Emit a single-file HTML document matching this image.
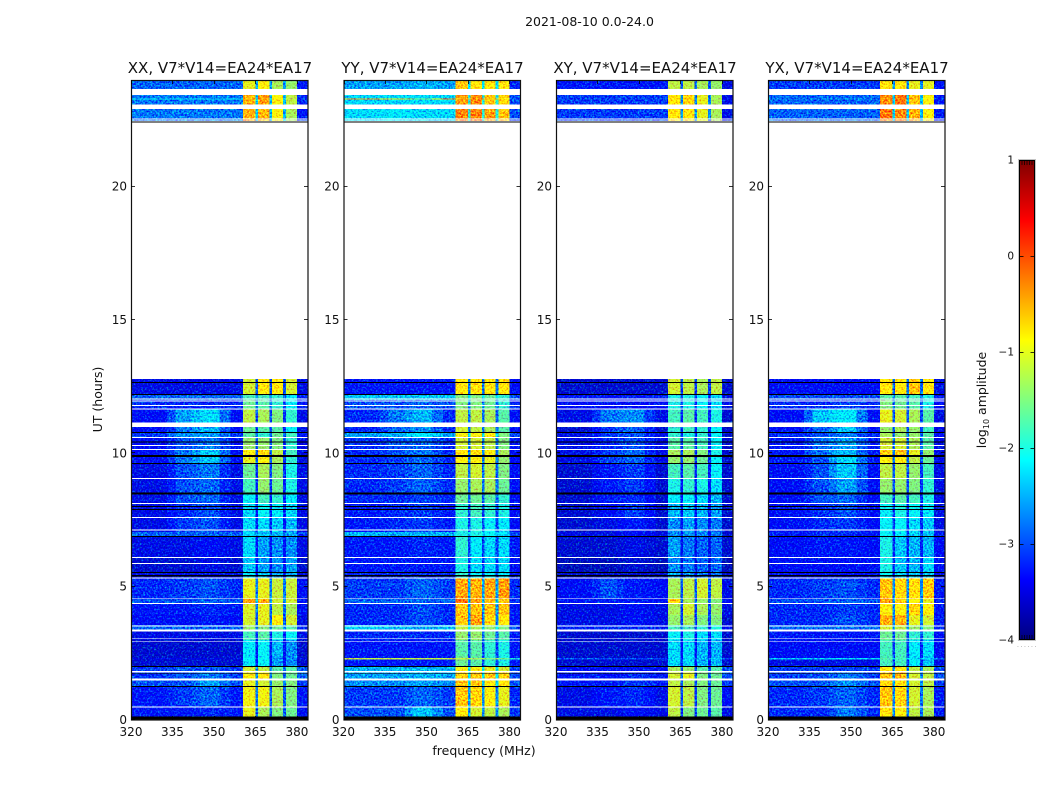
<!DOCTYPE html>
<html lang="en">
<head>
<meta charset="utf-8">
<title>2021-08-10 spectrogram</title>
<style>
html,body{margin:0;padding:0;background:#fff;width:1050px;height:800px;overflow:hidden}
svg{display:block}
text{font-family:"DejaVu Sans","Liberation Sans",sans-serif;fill:#111}
</style>
</head>
<body>
<svg id="fig" width="1050" height="800" viewBox="0 0 1050 800" xmlns="http://www.w3.org/2000/svg">
<defs>
<filter id="grain" x="0" y="0" width="100%" height="100%" color-interpolation-filters="sRGB">
<feTurbulence type="fractalNoise" baseFrequency="0.55" numOctaves="2" seed="7" result="n"/>
<feColorMatrix in="n" type="matrix" values="0 0 0 0 0.5  1 0 0 0 0  0 -0.35 0 0 0.675  0 0 0 0 1" result="m"/>
<feComposite in="SourceGraphic" in2="m" operator="arithmetic" k1="0" k2="1" k3="1.6" k4="-0.8" result="c"/>
<feComposite in="c" in2="SourceAlpha" operator="in"/>
</filter>
<linearGradient id="jetGrad" x1="0" y1="1" x2="0" y2="0"></linearGradient>
</defs>
<rect x="0" y="0" width="1050" height="800" fill="#fff"/>
<text x="589.5" y="26" font-size="12.5" text-anchor="middle">2021-08-10 0.0-24.0</text>
<text x="0" y="0" font-size="12.5" text-anchor="middle" transform="translate(102 399.5) rotate(-90)">UT (hours)</text>
<text x="484" y="755" font-size="12.5" text-anchor="middle">frequency (MHz)</text>
<text x="0" y="0" font-size="12.5" text-anchor="middle" transform="translate(986 400) rotate(-90)">log<tspan font-size="8" dy="3">10</tspan><tspan dy="-3"> amplitude</tspan></text>
<g id="panels"></g>
<g id="cbar"></g>
</svg>
<script>
// Time blocks in UT hours [start, end]
const timeBlocks = [[23.66,24],[23.31,23.44],[23.27,23.31],[23.08,23.27],[22.43,22.91],[12.21,12.79],[12.0,12.21],[11.64,12.0],[11.15,11.64],[10.78,10.99],[10.58,10.78],[10.16,10.58],[9.9,10.16],[9.6,9.9],[9.08,9.6],[8.51,9.08],[8.14,8.51],[7.61,8.14],[7.05,7.61],[6.88,7.05],[6.11,6.88],[5.55,6.11],[5.31,5.55],[4.56,5.31],[4.37,4.56],[3.94,4.37],[3.56,3.94],[3.36,3.56],[3.0,3.36],[2.4,3.0],[2.33,2.4],[2.27,2.33],[2.03,2.27],[1.82,2.03],[1.54,1.82],[1.26,1.54],[0.49,1.26],[0.13,0.49]];
// Unobserved time ranges (white) and flagged ranges (black), in hours
const gapHours = [[23.44,23.66],[22.91,23.08],[22.52,22.56],[22.44,22.48],[12.79,22.40],[12.02,12.06],[11.94,11.98],[11.78,11.81],[11.64,11.68],[10.99,11.15],[10.58,10.61],[10.275,10.31],[10.125,10.16],[9.04,9.075],[8.10,8.14],[7.575,7.61],[7.11,7.15],[6.075,6.11],[5.85,5.89],[5.30,5.34],[4.53,4.56],[4.35,4.39],[3.51,3.55],[3.31,3.39],[3.03,3.05],[2.94,2.97],[1.79,1.84],[1.49,1.55],[0.46,0.50]];
const flagHours = [[22.40,22.44],[12.64,12.675],[12.19,12.225],[10.77,10.8],[10.40,10.45],[9.86,9.93],[9.6,9.64],[8.46,8.54],[7.99,8.025],[7.875,7.91],[6.87,6.9],[5.51,5.55],[5.39,5.43],[1.99,2.025],[1.74,1.77],[1.24,1.275],[0,0.14]];
// Frequency regions in MHz
const bgLowEdges = [320,333];
const bump1Edges = [336,342];
const bump2Edges = [345,352];
const bgHighEdges = [356,360.5];
const subbandEdges = [[360.5,365],[366,370],[371,375],[376,380]];
const edgeBand = [380,384];
// Log10 amplitude per time block: background, bump1, bump2, sub-band 1-4, upper edge
const valuesXX = [
[-2.9,-2.9,-2.9,-1.0,-0.9,-1.3,-1.4,-3.3],[-2.8,-2.8,-2.8,-0.5,-0.4,-0.9,-1.2,-3.2],[-2.1,-2.2,-2.2,-0.5,-0.4,-0.9,-1.2,-3.0],[-2.8,-2.8,-2.8,-0.5,-0.4,-0.9,-1.2,-3.2],[-2.8,-2.8,-2.8,-0.5,-0.5,-0.9,-1.3,-3.3],
[-3.5,-3.5,-3.5,-1.1,-0.8,-0.8,-1.1,-3.5],[-2.9,-2.9,-2.9,-1.8,-1.8,-1.9,-2.2,-3.2],[-3.2,-3.2,-3.2,-1.6,-1.7,-1.9,-2.2,-3.3],[-3.4,-2.6,-2.3,-1.2,-1.3,-1.5,-1.9,-3.5],[-3.4,-2.8,-2.5,-1.6,-1.7,-1.7,-2.1,-3.5],
[-3.1,-2.7,-2.6,-1.7,-1.9,-1.6,-1.8,-3.3],[-3.4,-3.0,-2.8,-1.4,-1.4,-1.5,-1.9,-3.5],[-3.4,-2.8,-2.4,-0.9,-0.7,-1.2,-1.8,-3.5],[-3.4,-2.8,-2.4,-1.0,-0.9,-1.3,-1.9,-3.5],[-3.5,-3.0,-2.8,-1.6,-1.3,-1.5,-2.0,-3.5],
[-3.5,-3.0,-2.9,-1.8,-1.4,-1.6,-2.0,-3.5],[-3.5,-3.0,-2.9,-2.1,-1.8,-1.9,-2.2,-3.5],[-3.5,-3.2,-3.0,-2.3,-2.1,-2.2,-2.3,-3.5],[-3.5,-3.1,-3.0,-2.3,-2.3,-2.4,-2.5,-3.5],[-2.9,-2.9,-2.9,-2.3,-2.4,-2.5,-2.6,-3.1],
[-3.5,-3.5,-3.4,-2.3,-2.6,-2.7,-2.7,-3.5],[-3.6,-3.6,-3.5,-2.4,-2.6,-2.7,-2.6,-3.6],[-3.5,-3.5,-3.5,-2.2,-2.4,-2.5,-2.5,-3.5],[-3.2,-3.1,-3.0,-1.0,-1.0,-1.15,-1.15,-3.4],[-3.0,-3.0,-2.9,-0.4,-0.5,-1.1,-1.1,-3.3],
[-3.3,-3.3,-3.2,-1.05,-1.0,-1.2,-1.3,-3.4],[-3.4,-3.4,-3.3,-1.1,-1.0,-0.9,-1.1,-3.5],[-2.9,-2.9,-2.9,-1.4,-1.5,-1.6,-1.7,-3.2],[-3.5,-3.5,-3.5,-1.8,-1.7,-2.0,-2.1,-3.5],[-3.6,-3.6,-3.6,-2.2,-2.1,-2.5,-2.7,-3.6],
[-3.6,-3.6,-3.6,-2.2,-2.1,-2.6,-2.7,-3.6],[-3.5,-3.5,-3.5,-2.2,-2.1,-2.6,-2.7,-3.5],[-3.6,-3.6,-3.6,-2.2,-2.1,-2.6,-2.7,-3.6],[-3.1,-3.0,-3.0,-1.1,-1.2,-1.7,-1.7,-2.9],[-3.1,-3.0,-2.8,-0.9,-0.8,-1.5,-1.6,-2.9],
[-3.0,-3.0,-2.6,-1.0,-1.1,-1.4,-1.5,-3.1],[-3.3,-3.1,-2.9,-0.95,-0.95,-1.3,-1.5,-3.3],[-3.3,-3.3,-3.2,-1.0,-1.3,-1.5,-1.6,-3.4]];
const valuesYY = [
[-2.6,-2.6,-2.5,-0.6,-0.8,-0.8,-0.8,-3.2],[-2.3,-2.3,-2.3,-0.4,-0.3,-0.6,-0.7,-3.0],[-0.3,-0.8,-1.5,-0.4,-0.3,-0.6,-0.7,-2.9],[-2.3,-2.3,-2.3,-0.4,-0.3,-0.6,-0.7,-3.0],[-2.3,-2.2,-2.3,-0.25,-0.25,-0.4,-0.6,-3.0],
[-3.3,-3.3,-3.3,-0.8,-0.8,-0.8,-0.8,-3.4],[-2.4,-2.4,-2.4,-1.5,-1.5,-1.6,-1.9,-3.0],[-3.0,-3.0,-2.9,-1.5,-1.5,-1.6,-1.9,-3.2],[-3.2,-2.8,-2.5,-1.2,-1.2,-1.3,-1.7,-3.4],[-3.2,-2.9,-2.7,-1.1,-1.2,-1.3,-1.7,-3.4],
[-2.6,-2.5,-2.2,-0.9,-0.9,-0.8,-1.5,-3.0],[-3.2,-3.0,-2.9,-1.1,-1.1,-1.2,-1.5,-3.3],[-3.2,-3.0,-2.8,-0.8,-0.8,-0.9,-1.3,-3.4],[-3.2,-3.1,-2.9,-0.9,-0.9,-1.0,-1.4,-3.4],[-3.2,-3.1,-2.9,-1.2,-1.1,-1.2,-1.5,-3.4],
[-3.2,-3.1,-2.9,-1.4,-1.3,-1.3,-1.6,-3.4],[-3.2,-3.2,-3.1,-1.6,-1.6,-1.7,-1.9,-3.4],[-3.3,-3.2,-3.1,-1.9,-1.8,-1.9,-2.0,-3.4],[-3.3,-3.2,-3.1,-2.0,-2.0,-2.1,-2.2,-3.4],[-2.5,-2.5,-2.5,-2.0,-2.0,-2.1,-2.2,-3.0],
[-3.3,-3.3,-3.2,-1.9,-2.2,-2.3,-2.3,-3.3],[-3.3,-3.3,-3.3,-2.0,-2.3,-2.3,-2.3,-3.4],[-3.2,-3.2,-3.2,-1.9,-2.1,-2.1,-2.2,-3.3],[-3.1,-3.1,-2.9,-0.45,-0.5,-0.45,-0.4,-3.2],[-2.9,-2.9,-2.9,-0.2,-0.4,-0.5,-0.6,-3.1],
[-3.2,-3.2,-3.0,-0.6,-0.6,-0.6,-0.6,-3.3],[-3.2,-3.2,-3.0,-0.6,-0.4,-0.7,-0.8,-3.3],[-2.4,-2.5,-2.6,-1.2,-1.3,-1.4,-1.5,-3.0],[-3.2,-3.2,-3.2,-1.4,-1.4,-1.6,-1.7,-3.3],[-3.3,-3.3,-3.3,-1.7,-1.7,-1.9,-2.0,-3.3],
[-3.3,-3.3,-3.3,-1.6,-1.7,-1.9,-2.0,-3.3],[-1.2,-1.2,-1.2,-1.2,-1.3,-1.5,-1.6,-2.0],[-3.3,-3.3,-3.3,-1.6,-1.7,-1.9,-2.0,-3.3],[-2.5,-2.5,-2.5,-0.9,-0.9,-1.0,-1.1,-3.0],[-2.6,-2.6,-2.5,-0.7,-0.6,-0.6,-0.7,-3.0],
[-2.7,-2.7,-2.6,-0.6,-0.6,-0.8,-0.8,-3.0],[-3.1,-3.1,-2.9,-0.6,-0.7,-0.9,-1.0,-3.2],[-3.0,-3.0,-2.4,-0.9,-1.1,-1.2,-1.3,-3.1]];
const valuesXY = [
[-3.3,-3.3,-3.3,-1.2,-1.2,-1.3,-1.4,-3.5],[-3.1,-3.1,-3.1,-0.8,-0.7,-1.0,-1.3,-3.5],[-3.0,-3.0,-3.0,-0.8,-0.7,-1.0,-1.3,-3.5],[-3.1,-3.1,-3.1,-0.8,-0.7,-1.0,-1.3,-3.5],[-3.1,-3.1,-3.1,-0.8,-0.8,-1.0,-1.3,-3.5],
[-3.6,-3.6,-3.6,-1.1,-1.2,-1.3,-1.2,-3.6],[-3.3,-3.3,-3.3,-2.0,-2.0,-2.1,-2.3,-3.5],[-3.4,-3.4,-3.4,-2.0,-2.0,-2.1,-2.3,-3.5],[-3.5,-2.8,-2.7,-1.8,-1.7,-1.8,-2.0,-3.6],[-3.6,-3.1,-2.9,-1.9,-1.8,-1.9,-2.1,-3.6],
[-3.5,-3.1,-3.0,-1.9,-2.0,-1.9,-2.1,-3.6],[-3.5,-3.2,-3.0,-1.7,-1.7,-1.8,-2.1,-3.6],[-3.5,-3.1,-2.9,-1.3,-1.3,-1.5,-2.0,-3.6],[-3.5,-3.1,-2.9,-1.4,-1.4,-1.6,-2.1,-3.6],[-3.6,-3.3,-3.1,-1.8,-1.7,-1.8,-2.1,-3.6],
[-3.6,-3.3,-3.1,-2.0,-1.9,-2.0,-2.3,-3.6],[-3.6,-3.3,-3.2,-2.2,-2.1,-2.3,-2.5,-3.6],[-3.6,-3.4,-3.1,-2.5,-2.4,-2.5,-2.6,-3.6],[-3.6,-3.5,-3.3,-2.7,-2.6,-2.7,-2.8,-3.6],[-3.5,-3.5,-3.4,-2.7,-2.6,-2.7,-2.8,-3.6],
[-3.6,-3.6,-3.5,-2.6,-2.8,-2.9,-2.9,-3.6],[-3.7,-3.7,-3.6,-2.7,-2.8,-2.9,-2.9,-3.7],[-3.6,-3.6,-3.6,-2.5,-2.7,-2.8,-2.8,-3.6],[-3.4,-3.0,-3.3,-1.3,-1.2,-1.1,-1.2,-3.5],[-3.3,-3.3,-3.3,-0.7,-1.3,-1.4,-1.5,-3.4],
[-3.5,-3.5,-3.4,-1.3,-1.1,-1.3,-1.4,-3.5],[-3.5,-3.5,-3.4,-1.4,-1.3,-1.5,-1.5,-3.6],[-3.2,-3.2,-3.2,-1.8,-1.8,-1.9,-2.0,-3.4],[-3.6,-3.6,-3.6,-2.1,-2.0,-2.3,-2.3,-3.6],[-3.6,-3.6,-3.6,-2.3,-2.3,-2.5,-2.5,-3.6],
[-3.6,-3.6,-3.6,-2.3,-2.3,-2.5,-2.5,-3.6],[-3.0,-3.0,-3.0,-2.3,-2.3,-2.5,-2.5,-3.1],[-3.6,-3.6,-3.6,-2.3,-2.3,-2.5,-2.5,-3.6],[-3.4,-3.4,-3.4,-1.3,-1.4,-1.7,-1.7,-3.0],[-3.3,-3.3,-3.2,-1.1,-1.0,-1.5,-1.6,-3.0],
[-3.3,-3.3,-3.1,-1.2,-1.3,-1.5,-1.6,-3.1],[-3.5,-3.3,-3.2,-1.1,-1.2,-1.5,-1.6,-3.4],[-3.5,-3.5,-3.4,-1.2,-1.5,-1.6,-1.7,-3.5]];
const valuesYX = [
[-3.1,-3.1,-3.1,-0.8,-0.8,-1.0,-1.0,-3.3],[-2.9,-2.9,-2.9,-0.3,-0.2,-0.6,-0.9,-3.3],[-2.7,-2.7,-2.7,-0.3,-0.2,-0.6,-0.9,-3.2],[-2.9,-2.9,-2.9,-0.3,-0.2,-0.6,-0.9,-3.3],[-2.9,-2.9,-2.9,-0.2,-0.3,-0.5,-0.9,-3.3],
[-3.4,-3.4,-3.4,-0.8,-0.8,-0.6,-0.8,-3.5],[-3.0,-3.0,-3.0,-1.7,-1.7,-1.8,-2.0,-3.3],[-3.2,-3.2,-3.1,-1.5,-1.6,-1.7,-2.0,-3.4],[-3.4,-2.4,-2.2,-1.0,-1.1,-1.3,-1.7,-3.5],[-3.4,-2.9,-2.4,-1.4,-1.3,-1.4,-1.8,-3.5],
[-3.2,-3.0,-2.8,-1.3,-1.4,-1.4,-1.7,-3.4],[-3.3,-2.9,-2.6,-1.1,-1.1,-1.3,-1.7,-3.5],[-3.3,-2.8,-2.5,-0.7,-0.6,-1.0,-1.4,-3.5],[-3.3,-3.0,-2.3,-0.9,-0.9,-1.2,-1.6,-3.5],[-3.4,-3.0,-2.4,-1.2,-1.2,-1.4,-1.8,-3.5],
[-3.4,-3.0,-2.6,-1.4,-1.4,-1.5,-1.9,-3.5],[-3.4,-3.0,-2.9,-1.8,-1.7,-1.8,-2.0,-3.5],[-3.4,-3.2,-3.0,-2.1,-2.0,-2.1,-2.2,-3.5],[-3.4,-3.2,-3.1,-2.1,-2.1,-2.3,-2.4,-3.5],[-3.3,-3.2,-3.2,-2.1,-2.2,-2.3,-2.4,-3.4],
[-3.4,-3.3,-3.3,-2.0,-2.4,-2.5,-2.5,-3.4],[-3.4,-3.4,-3.4,-2.0,-2.4,-2.5,-2.3,-3.4],[-3.4,-3.4,-3.4,-2.1,-2.3,-2.4,-2.4,-3.4],[-3.2,-3.1,-3.0,-0.6,-0.7,-0.75,-0.65,-3.3],[-3.0,-3.0,-2.9,-0.4,-0.7,-0.9,-1.0,-3.2],
[-3.2,-3.2,-3.1,-0.9,-0.9,-0.7,-0.9,-3.3],[-3.2,-3.2,-3.0,-0.5,-0.5,-1.0,-1.1,-3.3],[-2.9,-2.9,-2.9,-1.1,-1.2,-1.4,-1.5,-3.2],[-3.3,-3.3,-3.3,-1.6,-1.6,-1.9,-1.9,-3.4],[-3.4,-3.4,-3.4,-1.8,-1.8,-2.2,-2.3,-3.4],
[-3.4,-3.4,-3.4,-1.8,-1.8,-2.2,-2.4,-3.4],[-2.4,-2.3,-2.3,-1.7,-1.8,-2.2,-2.4,-2.8],[-3.5,-3.5,-3.5,-1.8,-1.8,-2.2,-2.4,-3.5],[-3.1,-3.1,-3.1,-0.8,-0.8,-1.2,-1.3,-3.0],[-3.1,-3.0,-2.8,-0.6,-0.5,-1.1,-1.2,-3.0],
[-3.0,-3.0,-2.7,-0.7,-0.8,-1.1,-1.2,-3.1],[-3.2,-3.1,-2.9,-0.6,-0.7,-1.1,-1.3,-3.3],[-3.2,-3.2,-2.8,-0.8,-0.9,-1.2,-1.3,-3.3]];
const panelNames = ["xx","yy","xy","yx"];
const panelTitles = ["XX, V7*V14=EA24*EA17","YY, V7*V14=EA24*EA17","XY, V7*V14=EA24*EA17","YX, V7*V14=EA24*EA17"];
const panelValues = [valuesXX,valuesYY,valuesXY,valuesYX];
const xTicks = [320,335,350,365,380];
const yTicks = [0,5,10,15,20];
const colorTicks = [1,0,-1,-2,-3,-4];
const colorTickLabels = ["1","0","\u22121","\u22122","\u22123","\u22124"];

const SVGNS = "http://www.w3.org/2000/svg";
const panelLefts = [131,343.5,556,768];
const panelWidth = 177, plotTop = 80, plotBottom = 720;
const freqMin = 320, freqMax = 384, hourMax = 24;
function xScale(f,left){return left+(f-freqMin)/(freqMax-freqMin)*panelWidth;}
function yScale(h){return plotBottom-h/hourMax*(plotBottom-plotTop);}
function cbY(v){return 160+(1-v)/5*480;}
function mk(tag,attrs,parent){
  const e=document.createElementNS(SVGNS,tag);
  for(const k in attrs){e.setAttribute(k,attrs[k]);}
  parent.appendChild(e);
  return e;
}
function clamp01(v){return Math.max(0,Math.min(1,v));}
function jet(t){
  t=clamp01(t);
  const r=clamp01(Math.min(4*t-1.5,-4*t+4.5));
  const g=clamp01(Math.min(4*t-0.5,-4*t+3.5));
  const b=clamp01(Math.min(4*t+0.5,-4*t+2.5));
  return "rgb("+Math.round(r*255)+","+Math.round(g*255)+","+Math.round(b*255)+")";
}
function colorOf(v){return jet((v+4)/5);}

const panelsRoot=document.getElementById("panels");
panelLefts.forEach(function(left,p){
  const name=panelNames[p];
  const g=mk("g",{},panelsRoot);
  
  
  const heat=mk("g",{filter:"url(#grain)","shape-rendering":"crispEdges"},g);
  
  
  panelValues[p].forEach(function(row,r){
    const t=timeBlocks[r];
    const bg=row[0],b1=row[1],b2=row[2],s=row.slice(3,7),edge=row[7];
    const notch=function(a,b){return 0.8*bg+0.2*Math.min(a,b);};
    const cols=[
      [bgLowEdges[0],bgLowEdges[1],bg],
      [bgLowEdges[1],bump1Edges[0],(bg+b1)/2],
      [bump1Edges[0],bump1Edges[1],b1],
      [bump1Edges[1],bump2Edges[0],(b1+b2)/2],
      [bump2Edges[0],bump2Edges[1],b2],
      [bump2Edges[1],bgHighEdges[0],(b2+bg)/2],
      [bgHighEdges[0],bgHighEdges[1],bg],
      [subbandEdges[0][0],subbandEdges[0][1],s[0]],
      [subbandEdges[0][1],subbandEdges[1][0],notch(s[0],s[1])],
      [subbandEdges[1][0],subbandEdges[1][1],s[1]],
      [subbandEdges[1][1],subbandEdges[2][0],notch(s[1],s[2])],
      [subbandEdges[2][0],subbandEdges[2][1],s[2]],
      [subbandEdges[2][1],subbandEdges[3][0],notch(s[2],s[3])],
      [subbandEdges[3][0],subbandEdges[3][1],s[3]],
      [edgeBand[0],edgeBand[1],edge]
    ];
    cols.forEach(function(c){
      const x0=xScale(c[0],left),x1=xScale(c[1],left),y1=yScale(t[0]),y0=yScale(t[1]);
      const cell=mk("rect",{x:x0,y:y0,width:Math.max(0,x1-x0),height:y1-y0,fill:colorOf(c[2])},heat);
      
      
    });
  });
  gapHours.forEach(function(b){
    const gap=mk("rect",{x:left,y:yScale(b[1]),width:panelWidth,height:yScale(b[0])-yScale(b[1]),fill:"#fff","shape-rendering":"crispEdges"},g);
    
    
  });
  flagHours.forEach(function(b){
    const flag=mk("rect",{x:left,y:yScale(b[1]),width:panelWidth,height:yScale(b[0])-yScale(b[1]),fill:"#000","shape-rendering":"crispEdges"},g);
    
    
  });
  const frame=mk("rect",{x:left+0.5,y:plotTop+0.5,width:panelWidth-0.5,height:plotBottom-plotTop-0.5,fill:"none",stroke:"#111","stroke-width":1.2},g);
  
  
  const title=mk("text",{x:left+panelWidth/2+0.5,y:73,"font-size":15,"text-anchor":"middle"},g);
  title.textContent=panelTitles[p];
  
  
  xTicks.forEach(function(f){
    const x=Math.round(xScale(f,left))+0.5;
    const t1=mk("line",{x1:x,x2:x,y1:plotTop,y2:plotTop+4,stroke:"#000","stroke-width":0.8},g);
    
    
    const t2=mk("line",{x1:x,x2:x,y1:plotBottom-4,y2:plotBottom,stroke:"#000","stroke-width":0.8},g);
    
    
    const lab=mk("text",{x:xScale(f,left),y:736,"font-size":12,"text-anchor":"middle"},g);
    lab.textContent=String(f);
    
    
  });
  yTicks.forEach(function(h){
    const y=Math.round(yScale(h))-0.5;
    const t1=mk("line",{x1:left,x2:left+4,y1:y,y2:y,stroke:"#000","stroke-width":0.8},g);
    
    
    const t2=mk("line",{x1:left+panelWidth-4,x2:left+panelWidth,y1:y,y2:y,stroke:"#000","stroke-width":0.8},g);
    
    
    const lab=mk("text",{x:left-4,y:yScale(h)+4,"font-size":12,"text-anchor":"end"},g);
    lab.textContent=String(h);
    
    
  });
});

// colorbar
const grad=document.getElementById("jetGrad");
for(let i=0;i<=40;i++){
  mk("stop",{offset:(i/40*100)+"%","stop-color":jet(i/40)},grad);
}
const cb=document.getElementById("cbar");
const halo=mk("rect",{x:1018.5,y:159.5,width:17,height:481,fill:"none",stroke:"#c4c4c4","stroke-width":1},cb);


const cbRect=mk("rect",{x:1019.5,y:160.5,width:15,height:479,fill:"url(#jetGrad)",stroke:"#000","stroke-width":1},cb);


colorTicks.forEach(function(v,i){
  const y=Math.min(639.5,Math.max(160.5,Math.round(cbY(v))+0.5));
  const lt=mk("line",{x1:1019.5,x2:1023.5,y1:y,y2:y,stroke:"#000","stroke-width":0.8},cb);
  
  
  const rt=mk("line",{x1:1030.5,x2:1034.5,y1:y,y2:y,stroke:"#000","stroke-width":0.8},cb);
  
  
  const lab=mk("text",{x:1014,y:cbY(v)+3.5,"font-size":10.5,"text-anchor":"end"},cb);
  lab.textContent=colorTickLabels[i];
  
  
});
const minorTickMarks=[1022,1024.5,1027,1029.5,1032];
minorTickMarks.forEach(function(x){
  const a=mk("line",{x1:x,x2:x,y1:161,y2:165,stroke:"#000","stroke-width":0.7},cb);
  
  
  const b=mk("line",{x1:x,x2:x,y1:635,y2:639,stroke:"#000","stroke-width":0.7},cb);
  
  
});
const dots=mk("text",{x:1017,y:647,"font-size":6,"letter-spacing":"1.6"},cb);
dots.textContent="......";
dots.setAttribute("fill","#888");
dots.style.fill="#888";


</script>
</body>
</html>
